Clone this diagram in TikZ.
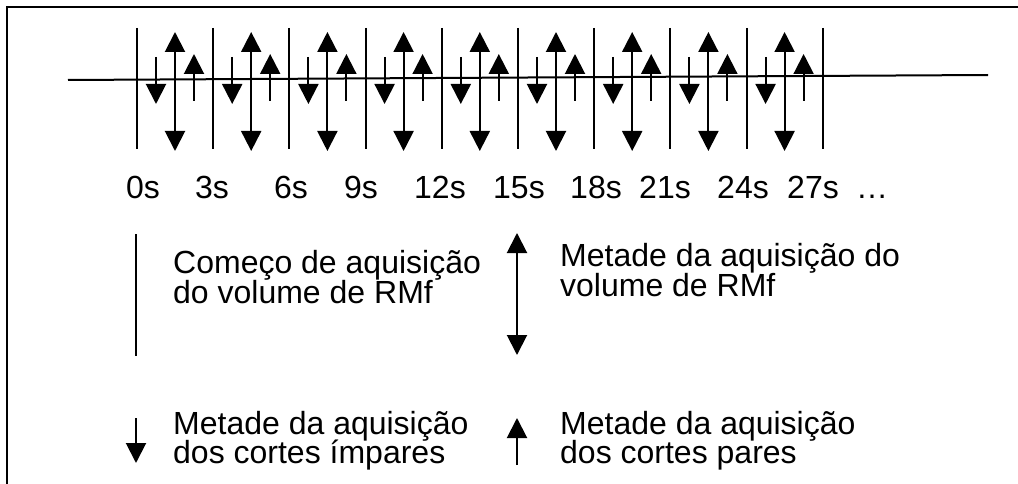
\documentclass[tikz,border=0pt]{standalone}
\usepackage{fontspec}
\setmainfont{Liberation Sans}
\usetikzlibrary{arrows.meta}
\tikzset{
  >={Triangle[width=20pt,length=20pt]},
  ln/.style={line width=2pt},
  lbl/.style={font=\fontsize{32}{32}\selectfont, inner sep=0pt},
}
\begin{document}
\begin{tikzpicture}[x=1pt,y=-1pt]
\useasboundingbox (0,0) rectangle (1018,484);
% frame
\coordinate (fb) at (7,484);
\coordinate (fc) at (7,7);
\coordinate (fr) at (1018,7);
\draw[ln] (fb) -- (fc) -- (fr);
% axis
\coordinate (axL) at (68,80);
\coordinate (axR) at (988,75);
\draw[ln] (axL) -- (axR);
% volume start lines
\foreach \i in {0,...,9}{
  \pgfmathsetmacro\xx{137+76.2*\i}
  \coordinate (vt\i) at (\xx,28);
  \coordinate (vb\i) at (\xx,149);
  \draw[ln] (vt\i) -- (vb\i);
}
% arrows inside each interval
\foreach \i in {0,...,8}{
  \pgfmathsetmacro\xx{137+76.2*\i}
  \coordinate (dt\i) at (\xx+19,57);
  \coordinate (db\i) at (\xx+19,104);
  \coordinate (mt\i) at (\xx+38,32);
  \coordinate (mb\i) at (\xx+38,151);
  \coordinate (ut\i) at (\xx+57,54);
  \coordinate (ub\i) at (\xx+57,101);
  \draw[ln,->] (dt\i) -- (db\i);
  \draw[ln,<->] (mt\i) -- (mb\i);
  \draw[ln,->] (ub\i) -- (ut\i);
}
% time labels
\foreach \x/\t [count=\k] in {143/0s,212/3s,291/6s,361/9s,440/12s,519/15s,596/18s,665/21s,743/24s,813/27s,872/…}{
  \node[lbl,anchor=base] (t\k) at (\x,198) {\t};
}
% legend
\coordinate (l1t) at (136,234);
\coordinate (l1b) at (136,356);
\draw[ln] (l1t) -- (l1b);
\node[lbl,anchor=base west] (txa1) at (173,273) {Começo de aquisição};
\node[lbl,anchor=base west] (txa2) at (173,303) {do volume de RMf};

\coordinate (l2t) at (517,233);
\coordinate (l2b) at (517,355);
\draw[ln,<->] (l2t) -- (l2b);
\node[lbl,anchor=base west] (txb1) at (560,266) {Metade da aquisição do};
\node[lbl,anchor=base west] (txb2) at (560,296) {volume de RMf};

\coordinate (l3t) at (136,418);
\coordinate (l3b) at (136,463);
\draw[ln,->] (l3t) -- (l3b);
\node[lbl,anchor=base west] (txc1) at (173,434) {Metade da aquisição};
\node[lbl,anchor=base west] (txc2) at (173,463) {dos cortes ímpares};

\coordinate (l4t) at (517,418);
\coordinate (l4b) at (517,465);
\draw[ln,->] (l4b) -- (l4t);
\node[lbl,anchor=base west] (txd1) at (560,434) {Metade da aquisição};
\node[lbl,anchor=base west] (txd2) at (560,463) {dos cortes pares};
\end{tikzpicture}
\end{document}
